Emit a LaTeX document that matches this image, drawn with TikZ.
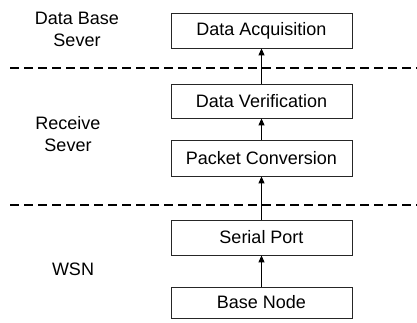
\documentclass[tikz,border=0pt]{standalone}
\usepackage{fontspec}
\setmainfont{Liberation Sans}
\usetikzlibrary{arrows.meta}
\begin{document}
\begin{tikzpicture}[x=1pt,y=-1pt,
  blk/.style={draw=black!85,line width=0.8pt,minimum width=181pt,font=\fontsize{18}{21}\selectfont,inner sep=0pt},
  lbl/.style={font=\fontsize{18}{22}\selectfont,align=center},
  sep/.style={line width=1.1pt,dash pattern=on 9pt off 5pt},
  arr/.style={line width=1pt,-{Triangle[length=7pt,width=6pt]}}]
\useasboundingbox (0,0) rectangle (417,322);
\node[blk,minimum height=35pt] (da) at (261.5,30.5) {Data Acquisition};
\node[blk,minimum height=34pt] (dv) at (261.5,101) {Data Verification};
\node[blk,minimum height=36pt] (pc) at (261.5,158) {Packet Conversion};
\node[blk,minimum height=35pt] (sp) at (261.5,237.5) {Serial Port};
\node[blk,minimum height=31pt] (bn) at (261.5,302.5) {Base Node};
\node[lbl] (l1) at (77,29) {Data Base\\Sever};
\node[lbl] (l2) at (68,134) {Receive\\Sever};
\node[lbl] (l3) at (73,269) {WSN};
\coordinate (s1a) at (10,68); \coordinate (s1b) at (417,68);
\coordinate (s2a) at (10,205); \coordinate (s2b) at (417,205);
\draw[sep] (s1a) -- (s1b);
\draw[sep] (s2a) -- (s2b);
\draw[arr] (dv) -- (da);
\draw[arr] (pc) -- (dv);
\draw[arr] (sp) -- (pc);
\draw[arr] (bn) -- (sp);
\end{tikzpicture}
\end{document}
